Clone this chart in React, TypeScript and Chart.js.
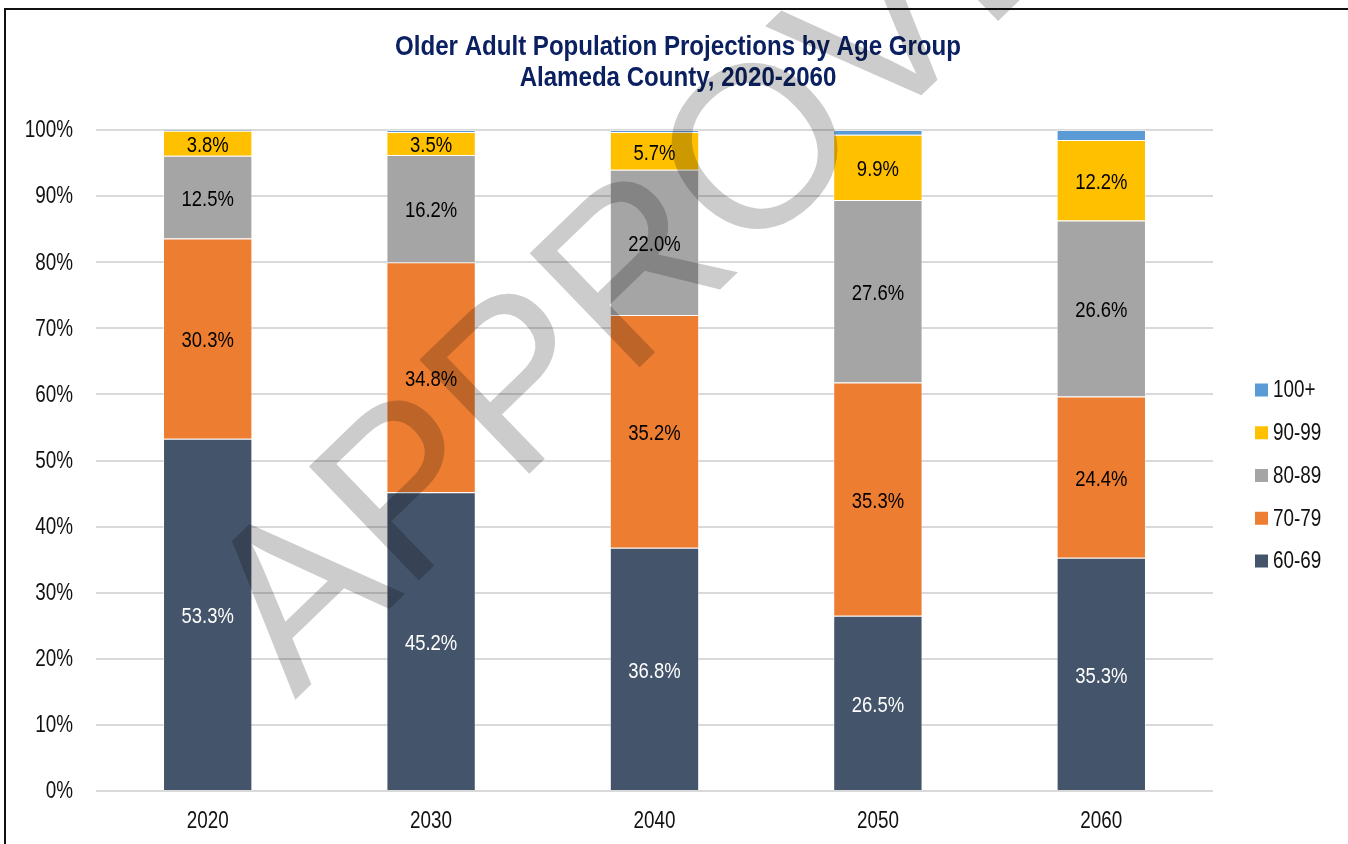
import React, { useEffect, useRef } from "react";
import { Chart, registerables } from "chart.js";

Chart.register(...registerables);

const categories = ["2020", "2030", "2040", "2050", "2060"];
const seriesNames = ["60-69", "70-79", "80-89", "90-99", "100+"];
const values6069 = [53.3, 45.2, 36.8, 26.5, 35.3];
const values7079 = [30.3, 34.8, 35.2, 35.3, 24.4];
const values8089 = [12.5, 16.2, 22.0, 27.6, 26.6];
const values9099 = [3.8, 3.5, 5.7, 9.9, 12.2];
const values100 = [0.1, 0.3, 0.3, 0.7, 1.5];
const seriesColors = ["#44546a", "#ed7d31", "#a5a5a5", "#ffc000", "#5b9bd5"];
const labelColors = ["#ffffff", "#000000", "#000000", "#000000", null];
const titleLines = ["Older Adult Population Projections by Age Group", "Alameda County, 2020-2060"];
const watermarkText = "APPROVED";

const FAMILY = "'Liberation Sans', Arial, sans-serif";
const NARROW = 0.82;

function narrowText(
  ctx: CanvasRenderingContext2D,
  text: string,
  x: number,
  y: number,
  align: CanvasTextAlign,
  size: number,
  weight: string,
  color: string,
  sx: number = NARROW
) {
  ctx.save();
  ctx.font = `${weight} ${size}px ${FAMILY}`;
  ctx.fillStyle = color;
  ctx.textAlign = align;
  ctx.textBaseline = "middle";
  ctx.translate(x, y);
  ctx.scale(sx, 1);
  ctx.fillText(text, 0, 0);
  ctx.restore();
}

export default function App() {
  const ref = useRef<HTMLCanvasElement | null>(null);

  useEffect(() => {
    const canvas = ref.current;
    if (!canvas) return;
    const allValues = [values6069, values7079, values8089, values9099, values100];

    const labelsPlugin = {
      id: "segLabels",
      afterDatasetsDraw(chart: any) {
        const ctx = chart.ctx;
        chart.data.datasets.forEach((ds: any, di: number) => {
          const col = labelColors[di];
          if (!col) return;
          const meta = chart.getDatasetMeta(di);
          meta.data.forEach((el: any, i: number) => {
            const v = ds.data[i];
            narrowText(ctx, v.toFixed(1) + "%", el.x, (el.y + el.base) / 2 + 2.5, "center", 22.5, "normal", col);
          });
        });
      },
    };

    const decorPlugin = {
      id: "decor",
      afterDraw(chart: any) {
        const ctx = chart.ctx;
        const area = chart.chartArea;
        const ys = chart.scales.y;
        const xs = chart.scales.x;
        // y tick labels
        ys.ticks.forEach((t: any) => {
          narrowText(ctx, t.value + "%", area.left - 23, ys.getPixelForValue(t.value) + 1, "right", 23, "normal", "#111111");
        });
        // x tick labels
        categories.forEach((c, i) => {
          narrowText(ctx, c, xs.getPixelForValue(i), area.bottom + 31, "center", 23, "normal", "#111111");
        });
        // title
        const tcx = chart.width / 2 + 4;
        narrowText(ctx, titleLines[0], tcx, 47, "center", 28, "bold", "#0b2060", 0.86);
        narrowText(ctx, titleLines[1], tcx, 78, "center", 28, "bold", "#0b2060", 0.86);
        // legend (reversed order)
        const n = seriesNames.length;
        const step = 42.75;
        const lx = area.right + 42;
        const cyStart = 390;
        for (let k = 0; k < n; k++) {
          const di = n - 1 - k;
          const cy = cyStart + k * step;
          ctx.fillStyle = seriesColors[di];
          ctx.fillRect(lx, cy - 6.5, 13, 13);
          narrowText(ctx, seriesNames[di], lx + 18, cy + 1, "left", 23, "normal", "#111111");
        }
        ctx.save();
        // frame
        ctx.fillStyle = "#111111";
        ctx.fillRect(4, 8, 2, chart.height);
        ctx.fillRect(4, 8, chart.width, 2);
        // watermark
        ctx.globalCompositeOperation = "multiply";
        ctx.translate(295, 700);
        ctx.rotate((-44 * Math.PI) / 180);
        ctx.font = `230px ${FAMILY}`;
        ctx.textAlign = "left";
        ctx.textBaseline = "alphabetic";
        ctx.fillStyle = "#cccccc";
        ctx.fillText(watermarkText, 0, 0);
        ctx.restore();
      },
    };

    const chart = new Chart(canvas, {
      type: "bar",
      data: {
        labels: categories,
        datasets: seriesNames.map((name, i) => ({
          label: name,
          data: allValues[i],
          backgroundColor: seriesColors[i],
          borderColor: "rgba(255,255,255,0.45)",
          borderWidth: 1,
          categoryPercentage: 0.8,
          barPercentage: 0.5,
        })),
      },
      options: {
        responsive: false,
        animation: false,
        layout: { padding: { left: 0, right: 135, top: 130, bottom: 0 } },
        plugins: {
          legend: { display: false },
          tooltip: { enabled: false },
          title: { display: false },
        },
        scales: {
          x: {
            stacked: true,
            grid: { display: false },
            border: { display: false },
            ticks: { display: false },
            afterFit: (s: any) => {
              s.height = 53;
            },
          },
          y: {
            stacked: true,
            min: 0,
            max: 100,
            border: { display: false },
            grid: { color: "#d9d9d9", lineWidth: 2, drawTicks: false },
            ticks: { display: false, stepSize: 10 },
            afterFit: (s: any) => {
              s.width = 96;
            },
          },
        },
      },
      plugins: [labelsPlugin, decorPlugin],
    });
    return () => chart.destroy();
  }, []);

  return (
    <div style={{ position: "absolute", left: 0, top: 0, width: 1348, height: 844, background: "#ffffff" }}>
      <canvas ref={ref} width={1348} height={844} style={{ display: "block" }} />
    </div>
  );
}
